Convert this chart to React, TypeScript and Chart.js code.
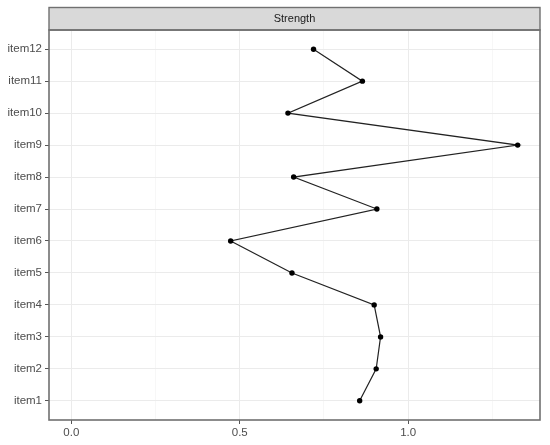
import React, { useEffect, useRef } from "react";
import { Chart, registerables } from "chart.js";

Chart.register(...registerables);

const items = ["item1", "item2", "item3", "item4", "item5", "item6", "item7", "item8", "item9", "item10", "item11", "item12"];
const strength = [0.856, 0.905, 0.918, 0.899, 0.655, 0.473, 0.907, 0.66, 1.325, 0.643, 0.864, 0.719];
const majorXTicks = [0, 0.5, 1.0];
const allXTicks = [0, 0.25, 0.5, 0.75, 1.0, 1.25];
const stripLabel = "Strength";

const FONT = "'Liberation Sans', Arial, sans-serif";

const isMajor = (v: number) => majorXTicks.some((m) => Math.abs(m - v) < 1e-9);

const panelPlugin = {
  id: "panelStrip",
  afterDraw(chart: any) {
    const { ctx, chartArea } = chart;
    const { left, right, top, bottom } = chartArea;
    ctx.save();
    const stripTop = 7.5;
    ctx.fillStyle = "#D9D9D9";
    ctx.fillRect(left, stripTop, right - left, top - stripTop);
    ctx.strokeStyle = "#707070";
    ctx.lineWidth = 1.4;
    ctx.strokeRect(left, stripTop, right - left, top - stripTop);
    ctx.fillStyle = "#1A1A1A";
    ctx.font = `11px ${FONT}`;
    ctx.textAlign = "center";
    ctx.textBaseline = "middle";
    ctx.fillText(stripLabel, (left + right) / 2, (stripTop + top) / 2 + 0.5);
    ctx.strokeStyle = "#707070";
    ctx.lineWidth = 1.6;
    ctx.strokeRect(left, top, right - left, bottom - top);
    ctx.restore();
  },
};

export default function App() {
  const ref = useRef<HTMLCanvasElement | null>(null);

  useEffect(() => {
    if (!ref.current) return;
    const maxVal = Math.max(...strength);
    const span = maxVal - 0;
    const chart = new Chart(ref.current, {
      type: "scatter",
      data: {
        datasets: [
          {
            data: strength.map((v, i) => ({ x: v, y: i + 1 })),
            showLine: true,
            borderColor: "#222222",
            borderWidth: 1.2,
            backgroundColor: "#000000",
            pointBackgroundColor: "#000000",
            pointBorderColor: "#000000",
            pointRadius: 2.7,
            pointBorderWidth: 0,
          },
        ],
      },
      options: {
        responsive: false,
        animation: false,
        devicePixelRatio: 1,
        layout: { padding: { top: 30, right: 10, left: 0, bottom: 0 } },
        plugins: {
          legend: { display: false },
          tooltip: { enabled: false },
          title: { display: false },
        },
        scales: {
          x: {
            type: "linear",
            min: 0 - 0.05 * span,
            max: maxVal + 0.05 * span,
            afterBuildTicks: (scale: any) => {
              scale.ticks = allXTicks.map((v) => ({ value: v }));
            },
            afterFit: (scale: any) => {
              scale.height = 25;
            },
            border: { display: false },
            grid: {
              color: (c: any) => (isMajor(c.tick?.value) ? "#EBEBEB" : "#F4F4F4"),
              lineWidth: (c: any) => (isMajor(c.tick?.value) ? 1 : 0.7),
              tickColor: (c: any) => (isMajor(c.tick?.value) ? "#555555" : "rgba(0,0,0,0)"),
              tickLength: 4,
              drawTicks: true,
            },
            ticks: {
              autoSkip: false,
              maxRotation: 0,
              padding: 2,
              color: "#4D4D4D",
              font: { family: FONT, size: 11.5 },
              callback: (v: any) => (isMajor(Number(v)) ? Number(v).toFixed(1) : ""),
            },
          },
          y: {
            type: "linear",
            min: 0.4,
            max: items.length + 0.6,
            afterBuildTicks: (scale: any) => {
              scale.ticks = items.map((_, i) => ({ value: i + 1 }));
            },
            afterFit: (scale: any) => {
              scale.width = 49;
            },
            border: { display: false },
            grid: {
              color: "#EBEBEB",
              lineWidth: 1,
              tickColor: "#555555",
              tickLength: 4,
              drawTicks: true,
            },
            ticks: {
              autoSkip: false,
              padding: 3,
              color: "#4D4D4D",
              font: { family: FONT, size: 11.5 },
              callback: (v: any) => items[Math.round(Number(v)) - 1] ?? "",
            },
          },
        },
      },
      plugins: [panelPlugin],
    });
    return () => chart.destroy();
  }, []);

  return (
    <div style={{ position: "absolute", left: 0, top: 0, width: 550, height: 445, background: "#fff" }}>
      <canvas ref={ref} width={550} height={445} style={{ display: "block" }} />
    </div>
  );
}
